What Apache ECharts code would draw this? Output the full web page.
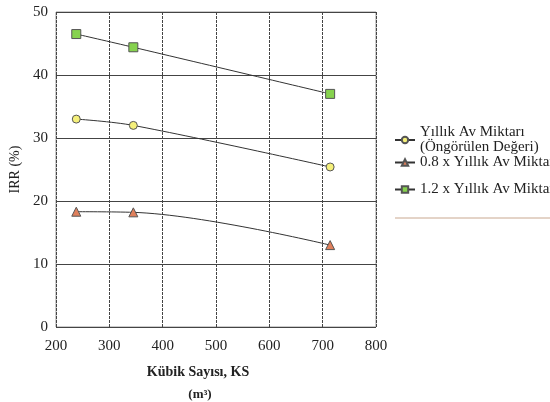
<!DOCTYPE html>
<html><head><meta charset="utf-8">
<script src="https://cdn.jsdelivr.net/npm/echarts@6/dist/echarts.min.js"></script>
<style>html,body{margin:0;padding:0;background:#fff}#c{width:550px;height:402px}</style>
</head><body><div id="c"></div>
<script>
const xValues = [238, 345, 714];
const baseIRR = [33.0, 32.0, 25.4];
const lowIRR = [18.3, 18.2, 13.0];
const highIRR = [46.5, 44.4, 37.0];
const seriesNames = ['Yıllık Av Miktarı\n(Öngörülen Değeri)', '0.8 x Yıllık Av Miktarı', '1.2 x Yıllık Av Miktarı'];
const xTicks = [200, 300, 400, 500, 600, 700, 800];
const yTicks = [0, 10, 20, 30, 40, 50];

const font = 'Liberation Serif';
const pair = (ys) => xValues.map((x, i) => [x, ys[i]]);
const mk = (name, data, symbol, color, size) => ({
  name, type: 'line', data: pair(data), smooth: 0.35,
  symbol, symbolSize: size,
  lineStyle: { color: '#333', width: 1 },
  itemStyle: { color: color, borderColor: '#555', borderWidth: 1 },
  emphasis: { disabled: true }
});
const legendBase = {
  orient: 'vertical', left: 394, itemWidth: 20, itemHeight: 8, itemGap: 4, padding: [5, 0, 5, 0],
  textStyle: { fontFamily: font, fontSize: 15, color: '#222', lineHeight: 15 }
};
const chart = echarts.init(document.getElementById('c'));
chart.setOption({
  animation: false,
  textStyle: { fontFamily: font },
  grid: { left: 50, top: 12, width: 326, height: 315, show: true, borderColor: '#999', borderWidth: 1, backgroundColor: 'transparent' },
  legend: [
    Object.assign({}, legendBase, { top: 120, data: [seriesNames[0]] }),
    Object.assign({}, legendBase, { top: 150, data: [seriesNames[1]] }),
    Object.assign({}, legendBase, { top: 177, data: [seriesNames[2]] })
  ],
  xAxis: {
    type: 'value', min: xTicks[0], max: xTicks[xTicks.length - 1], interval: 100,
    axisLine: { show: false }, axisTick: { show: false },
    axisLabel: { fontFamily: font, fontSize: 15, color: '#222', margin: 12 },
    splitLine: { show: true, lineStyle: { color: '#444', type: [3, 1], width: 1 } }
  },
  yAxis: {
    type: 'value', min: yTicks[0], max: yTicks[yTicks.length - 1], interval: 10,
    name: 'IRR (%)', nameLocation: 'middle', nameGap: 34, nameRotate: 90,
    nameTextStyle: { fontFamily: font, fontSize: 14, color: '#222' },
    axisLine: { show: false }, axisTick: { show: false },
    axisLabel: { fontFamily: font, fontSize: 15, color: '#222', margin: 8 },
    splitLine: { show: true, lineStyle: { color: '#444', width: 1 } }
  },
  graphic: [
    { type: 'text', x: 198, y: 372, style: { text: 'Kübik Sayısı, KS', font: 'bold 14px "Liberation Serif"', fill: '#222', align: 'center', verticalAlign: 'middle' } },
    { type: 'text', x: 200, y: 395, style: { text: '(m³)', font: 'bold 13px "Liberation Serif"', fill: '#222', align: 'center', verticalAlign: 'middle' } },
    { type: 'line', shape: { x1: 395, y1: 218, x2: 550, y2: 218 }, style: { stroke: '#c9a890', lineWidth: 1 } }
  ],
  series: [
    mk(seriesNames[0], baseIRR, 'circle', '#f5f07a', 8),
    mk(seriesNames[1], lowIRR, 'triangle', '#e0805c', 9),
    mk(seriesNames[2], highIRR, 'rect', '#86d24e', 9)
  ]
});
</script></body></html>
